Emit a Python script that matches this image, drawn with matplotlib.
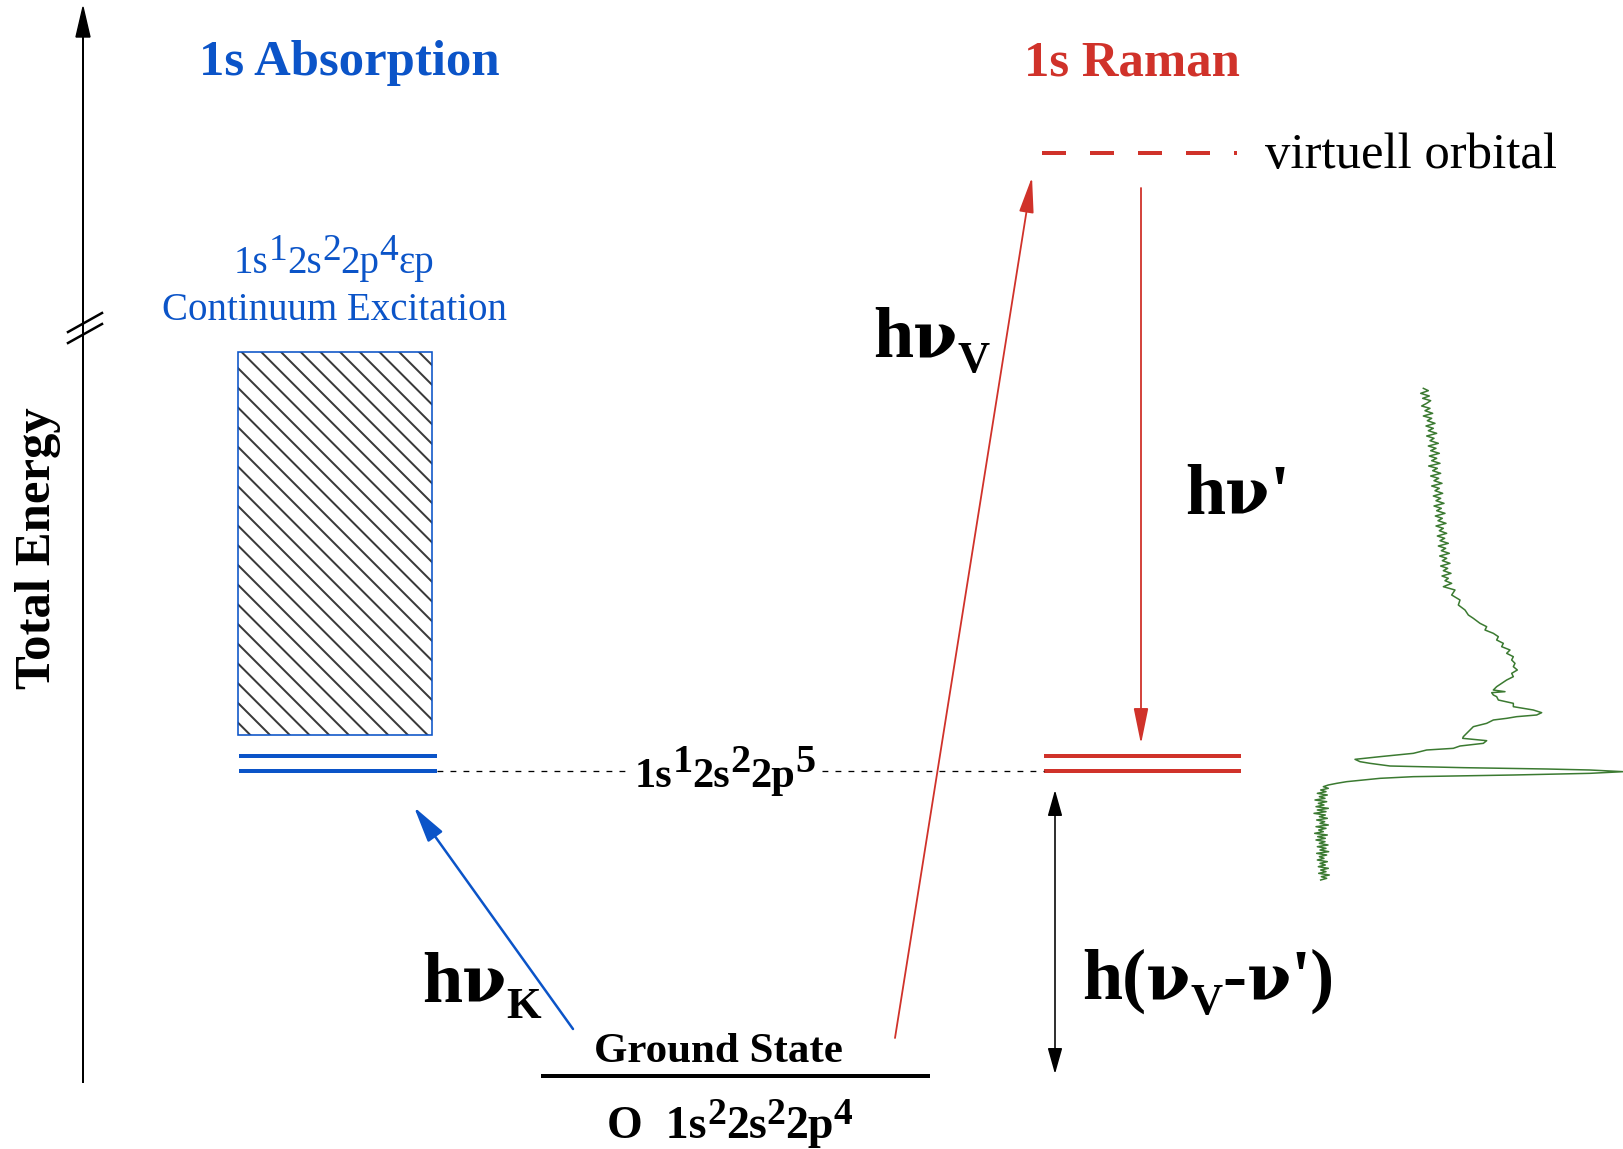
import numpy as np
import matplotlib
matplotlib.use("Agg")
import matplotlib.pyplot as plt
from matplotlib.patches import Rectangle, Polygon

# ---------------- data ----------------
BLUE = "#0b54c8"
RED = "#d0322a"
GREEN = "#3b7a31"
SERIF = ["Liberation Serif", "DejaVu Serif"]
NU = ["DejaVu Serif"]

titles = ["1s Absorption", "1s Raman"]

# energy levels (diagram y, pixel units from top)
level_ground = 1076
level_core = [755.5, 770.5]        # 1s^1 2s^2 2p^5 (two lines)
level_virtual = 153
continuum_top, continuum_bottom = 352, 735

# spectrum (detector channel vs. counts, a.u.)
spec_channel = [55, 62, 70, 78, 85, 92, 100, 108, 115, 122, 130, 138, 145, 152, 160, 168,
                175, 182, 190, 198, 205, 212, 220, 228, 235, 242, 250, 258, 265, 272,
                280, 288, 295, 302, 310, 318, 325, 332, 340, 348, 355, 362, 370, 378,
                385, 392, 400, 408, 415, 422, 430, 438, 445, 452, 460, 468, 475, 482,
                490, 498, 505, 512, 520, 528, 535, 542, 550, 558, 565, 572, 580, 588,
                595, 602, 610, 618, 625, 632, 640, 650, 660, 675,
                690, 705, 720, 735, 745, 760, 770, 780, 790, 800, 810, 820, 830, 840,
                850, 860, 870, 880, 890, 900, 910, 920, 930, 940, 950, 960, 965, 968,
                975, 980, 990, 1000, 1010, 1020, 1028, 1035, 1040, 1045, 1050, 1060,
                1070, 1080, 1090, 1100, 1105, 1112, 1120, 1128, 1135, 1140, 1150, 1160,
                1168, 1175, 1180, 1188, 1193, 1197, 1200, 1205, 1210, 1215, 1220, 1225,
                1230, 1235, 1240, 1245, 1250, 1255, 1260, 1265, 1270, 1275, 1280, 1285,
                1290, 1295, 1300, 1305, 1310, 1315, 1320, 1325, 1330, 1335, 1340, 1345,
                1350, 1355, 1360, 1365, 1370, 1375, 1380, 1385, 1390, 1395, 1400, 1405,
                1410, 1415, 1420, 1425, 1430, 1435, 1440, 1445, 1450, 1455, 1460, 1465,
                1470, 1475, 1480, 1485, 1490, 1495, 1500, 1505, 1510, 1515, 1520, 1525,
                1530]
spec_counts = [430, 445, 422, 448, 428, 452, 440, 425, 450, 435, 458, 430, 455, 442, 465, 438,
               460, 445, 470, 440, 462, 450, 475, 445, 468, 452, 478, 448, 470, 455,
               480, 446, 472, 458, 482, 452, 476, 462, 486, 455, 478, 465, 488, 460,
               482, 468, 492, 462, 484, 470, 495, 466, 487, 474, 498, 468, 490, 478,
               500, 472, 494, 480, 505, 475, 497, 484, 508, 479, 500, 487, 510, 482,
               503, 490, 513, 486, 505, 495, 515, 490, 525, 515,
               540, 535, 555, 565, 580, 600, 620, 615, 640, 655, 650, 670, 665, 690,
               680, 700, 695, 705, 700, 712, 695, 700, 680, 665, 650, 640, 675, 635,
               640, 650, 655, 700, 700, 760, 785, 770, 710, 680, 640, 620,
               580, 570, 560, 550, 548, 620, 610, 540, 520, 440, 400, 300,
               225, 240, 270, 330, 550, 800, 930, 1030, 930, 700, 400, 300,
               250, 200, 170, 145, 130, 145, 122, 138, 112, 142, 118, 135,
               105, 140, 115, 132, 108, 145, 112, 138, 102, 136, 118, 142,
               110, 134, 120, 145, 108, 138, 116, 130, 104, 142, 113, 136,
               108, 135, 118, 144, 112, 138, 120, 146, 110, 140, 118, 132,
               112, 142, 120, 136, 115, 145, 122, 138, 116, 148, 124, 140,
               122]

# ---------------- figure ----------------
W, H = 1623, 1149
fig = plt.figure(figsize=(W / 100, H / 100), dpi=100)
ax = fig.add_axes([0, 0, 1, 1])
ax.set_xlim(0, W)
ax.set_ylim(H, 0)
ax.axis("off")
R = fig.canvas.get_renderer()

PX = 0.72  # points per pixel


def rich(x, y, segs, ha="center", color="k", weight="normal"):
    """Draw a run of text segments (text, size_pt, raise_px[, family]) on baseline y."""
    arts, widths = [], []
    for seg in segs:
        s, sz, dy = seg[:3]
        fam = seg[3] if len(seg) > 3 else SERIF
        t = ax.text(0, 0, s, fontsize=sz, color=color, weight=weight,
                    family=fam, ha="left", va="baseline")
        arts.append((t, dy))
        widths.append(t.get_window_extent(R).width)
    total = sum(widths)
    x0 = x - total / 2 if ha == "center" else x
    for (t, dy), w in zip(arts, widths):
        t.set_position((x0, y - dy))
        x0 += w


def arrow(p0, p1, color, lw, hl, hw, style="-|>"):
    ax.annotate("", xy=p1, xytext=p0,
                arrowprops=dict(arrowstyle=f"{style},head_length={hl},head_width={hw}",
                                lw=lw, color=color, shrinkA=0, shrinkB=0))


# energy axis with break
ax.plot([83, 83], [1082, 322], color="k", lw=2 * PX)
ax.plot([83, 83], [337, 36], color="k", lw=2 * PX)
ax.add_patch(Polygon([[83, 7], [76, 37], [90, 37]], closed=True, color="k"))
ax.plot([68, 102], [332, 313], color="k", lw=2.5 * PX)
ax.plot([68, 102], [343, 324], color="k", lw=2.5 * PX)
ax.text(38, 548, "Total Energy", rotation=90, ha="center", va="center",
        fontsize=36.5, weight="bold", family=SERIF)

# titles
ax.text(349, 75, titles[0], ha="center", va="baseline", fontsize=36.5,
        weight="bold", color=BLUE, family=SERIF)
ax.text(1132, 75, titles[1], ha="center", va="baseline", fontsize=36.5,
        weight="bold", color=RED, family=SERIF)

# continuum box with hatching
box = Rectangle((238, continuum_top), 194, continuum_bottom - continuum_top,
                fill=False, ec=BLUE, lw=1.6 * PX, zorder=3)
ax.add_patch(box)
clip = Rectangle((238, continuum_top), 194, continuum_bottom - continuum_top,
                 transform=ax.transData, fill=False)
for c in np.arange(-240, 520, 19.7):
    ln, = ax.plot([238, 432], [continuum_top + c, continuum_top + c + 194],
                  color="#3a3a3a", lw=2.0 * PX, zorder=2)
    ln.set_clip_path(clip)

rich(334, 273, [("1s", 28, 0), ("1", 27, 13), ("2s", 28, 0), ("2", 27, 13),
                ("2p", 28, 0), ("4", 27, 13), ("εp", 28, 0)], color=BLUE)
ax.text(334, 320, "Continuum Excitation", ha="center", va="baseline",
        fontsize=28, color=BLUE, family=SERIF)

# core-excited levels
for yv in level_core:
    ax.plot([239, 437], [yv, yv], color=BLUE, lw=4 * PX, solid_capstyle="butt")
    ax.plot([1044, 1241], [yv, yv], color=RED, lw=4 * PX, solid_capstyle="butt")
ax.plot([437, 626], [level_core[1]] * 2, color="k", lw=1.3 * PX, dashes=(4.5, 5.5))
ax.plot([822, 1044], [level_core[1]] * 2, color="k", lw=1.3 * PX, dashes=(4.5, 5.5))
rich(725, 787, [("1s", 30.5, 0), ("1", 29, 15), ("2s", 30.5, 0), ("2", 29, 15),
                ("2p", 30.5, 0), ("5", 29, 15)], weight="bold")

# virtual orbital
ax.plot([1042, 1237], [level_virtual] * 2, color=RED, lw=4 * PX,
        dashes=(6, 6), solid_capstyle="butt", dash_capstyle="butt")
ax.text(1265, 168, "virtuell orbital", ha="left", va="baseline", fontsize=36.5,
        family=SERIF)

# ground state
ax.plot([541, 930], [level_ground] * 2, color="k", lw=4 * PX, solid_capstyle="butt")
ax.text(718, 1062, "Ground State", ha="center", va="baseline", fontsize=31,
        weight="bold", family=SERIF)
rich(730, 1138, [("O  1s", 33, 0), ("2", 27, 14), ("2s", 33, 0), ("2", 27, 14),
                 ("2p", 33, 0), ("4", 27, 14)], weight="bold")

# transitions
arrow((573, 1029), (414, 807), BLUE, 2.5 * PX, 2.2, 0.55)
arrow((895, 1038), (1032, 177), RED, 1.8 * PX, 2.2, 0.45)
arrow((1141, 188), (1141, 744), RED, 1.8 * PX, 2.2, 0.45)
arrow((1055, 1074), (1055, 790), "k", 1.6 * PX, 1.6, 0.45, style="<|-|>")

NUS = 46
rich(422, 1002, [("h", 52, 0), ("ν", NUS, 0, NU), ("K", 32, -16)], ha="left", weight="bold")
rich(873, 357, [("h", 52, 0), ("ν", NUS, 0, NU), ("V", 32, -15)], ha="left", weight="bold")
rich(1185, 514, [("h", 52, 0), ("ν", NUS, 0, NU), ("'", 52, 0)], ha="left", weight="bold")
rich(1082, 999, [("h(", 52, 0), ("ν", NUS, 0, NU), ("V", 32, -15), ("-", 52, 0),
                 ("ν", NUS, 0, NU), ("')", 52, 0)], ha="left", weight="bold")

# measured spectrum
sax = fig.add_axes([1280 / W, 1 - 890 / H, 343 / W, 520 / H])
sax.plot(spec_counts, spec_channel, color=GREEN, lw=1.1)
sax.set_xlim(0, 1029)
sax.set_ylim(1560, 0)
sax.axis("off")

fig.savefig("out.png", dpi=100)
